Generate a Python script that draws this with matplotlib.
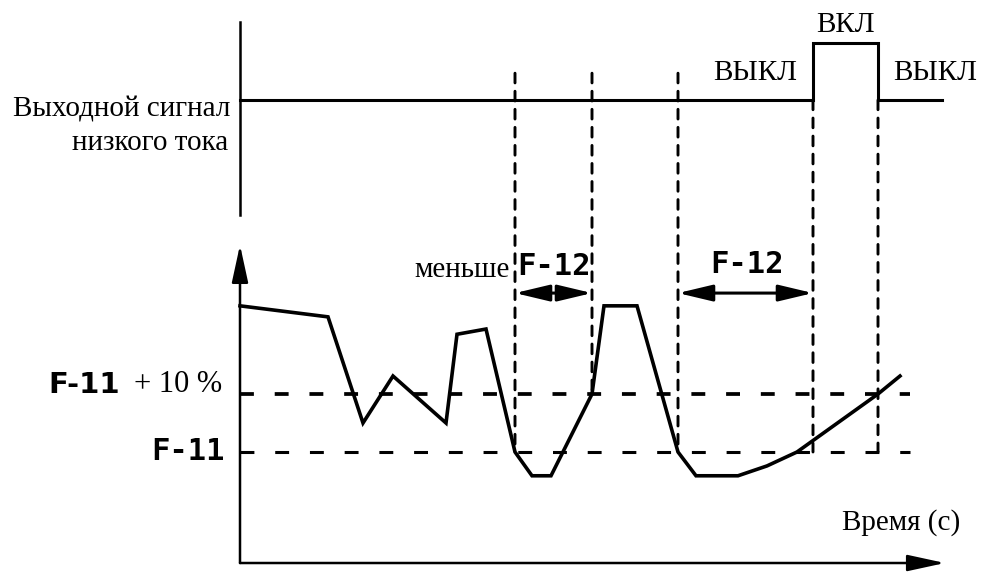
import matplotlib
matplotlib.use('Agg')
import matplotlib.pyplot as plt
from matplotlib.patches import ConnectionPatch

plt.rcParams['lines.scale_dashes'] = False
plt.rcParams['lines.solid_joinstyle'] = 'miter'

# ---- data ----
# current curve (time in s, current in % of F-11 level)
curve_t = [0.0, 8.8, 12.3, 15.3, 20.6, 21.7, 24.6, 27.5, 29.2, 31.1, 35.2, 36.4,
           39.7, 43.8, 45.6, 49.8, 52.7, 55.7, 63.8, 66.0]
curve_i = [125.2, 123.3, 105.0, 113.1, 105.0, 120.3, 121.2, 100.0, 95.9, 95.9,
           110.0, 125.2, 125.2, 100.0, 95.9, 95.9, 97.6, 100.0, 110.0, 113.1]
f11_level = 100.0
f11_plus10_level = 110.0
hline_end = 67.0

# low-current output signal (0 = OFF, 1 = ON)
sig_t = [0.0, 57.3, 57.3, 63.8, 63.8, 70.2]
sig_v = [0, 0, 1, 1, 0, 0]

# vertical markers: time, top (signal units), bottom (current units)
marker_t = [27.5, 35.2, 43.8, 57.3, 63.8]
marker_top = [0.47, 0.47, 0.47, 0.0, 0.0]
marker_bottom = [100.0, 110.0, 100.0, 100.0, 100.0]

# F-12 spans
f12_start = [27.5, 43.8]
f12_end = [35.2, 57.3]
f12_level = 127.4

# axes extents
t_axis_end = 70.5
i_axis_bottom = 80.86
i_axis_top = 135.7
sig_axis_bottom = -2.02
sig_axis_top = 1.37

serif = 'Liberation Serif'

fig = plt.figure(figsize=(9.91, 5.72), dpi=100)
ax = fig.add_axes([0, 0, 1, 1])
axs = fig.add_axes([0, 0, 1, 1])
for a in (ax, axs):
    a.set_xlim(-24, 75.1)
    a.axis('off')
    a.patch.set_alpha(0)
ax.set_ylim(79.31, 177.93)
axs.set_ylim(-8.28, 1.754)

# current axes with arrows
ax.annotate('', xy=(0, i_axis_top), xytext=(0, i_axis_bottom),
            arrowprops=dict(arrowstyle='-|>,head_length=1.15,head_width=0.25',
                            mutation_scale=20, lw=1.8, color='black',
                            shrinkA=0, shrinkB=0))
ax.annotate('', xy=(t_axis_end, i_axis_bottom), xytext=(0, i_axis_bottom),
            arrowprops=dict(arrowstyle='-|>,head_length=1.15,head_width=0.25',
                            mutation_scale=20, lw=1.8, color='black',
                            shrinkA=0, shrinkB=0))

# threshold dashed lines
ax.plot([0, hline_end], [f11_plus10_level] * 2, color='black', lw=2.7,
        dashes=(10, 15), dash_capstyle='butt')
ax.plot([0, hline_end], [f11_level] * 2, color='black', lw=2.2,
        dashes=(10, 15), dash_capstyle='butt')

# current curve
ax.plot(curve_t, curve_i, color='black', lw=2.6)

# signal axis and signal
axs.plot([0, 0], [sig_axis_bottom, sig_axis_top], color='black', lw=1.8)
axs.plot(sig_t, sig_v, color='black', lw=2.2)

# vertical dashed markers spanning both panels
for t, top, bot in zip(marker_t, marker_top, marker_bottom):
    cp = ConnectionPatch(xyA=(t, top), coordsA=axs.transData,
                         xyB=(t, bot), coordsB=ax.transData,
                         color='black', lw=2.1, linestyle=(0, (7, 6)))
    fig.add_artist(cp)

# F-12 double arrows
for s, e in zip(f12_start, f12_end):
    ax.annotate('', xy=(e, f12_level), xytext=(s, f12_level),
                arrowprops=dict(arrowstyle='<|-|>,head_length=1.05,head_width=0.25',
                                mutation_scale=20, lw=2.2, color='black',
                                shrinkA=0, shrinkB=0))

# labels, lower panel
ax.text(-1.8, 111.6, '+ 10 %', family=serif, fontsize=22, ha='right', va='center')
ax.text(-12.0, 111.6, 'F-11', family='DejaVu Sans', weight='bold', fontsize=21,
        ha='right', va='center')
ax.text(-1.5, 100.0, 'F-11', family='DejaVu Sans Mono', weight='bold', fontsize=22,
        ha='right', va='center')
ax.text(27.0, 131.4, 'меньше', family=serif, fontsize=21, ha='right', va='center')
ax.text(31.35, 131.9, 'F-12', family='DejaVu Sans Mono', weight='bold', fontsize=22,
        ha='center', va='center')
ax.text(50.7, 132.4, 'F-12', family='DejaVu Sans Mono', weight='bold', fontsize=22,
        ha='center', va='center')
ax.text(72.0, 87.8, 'Время (с)', family=serif, fontsize=21, ha='right', va='center')

# labels, upper panel
axs.text(-1.0, -0.175, 'Выходной сигнал', family=serif, fontsize=21, ha='right', va='center')
axs.text(-1.2, -0.754, 'низкого тока', family=serif, fontsize=21, ha='right', va='center')
axs.text(47.3, 0.47, 'ВЫКЛ', family=serif, fontsize=21, ha='left', va='center')
axs.text(60.55, 1.316, 'ВКЛ', family=serif, fontsize=21, ha='center', va='center')
axs.text(65.3, 0.47, 'ВЫКЛ', family=serif, fontsize=21, ha='left', va='center')

fig.savefig('out.png', dpi=100)
